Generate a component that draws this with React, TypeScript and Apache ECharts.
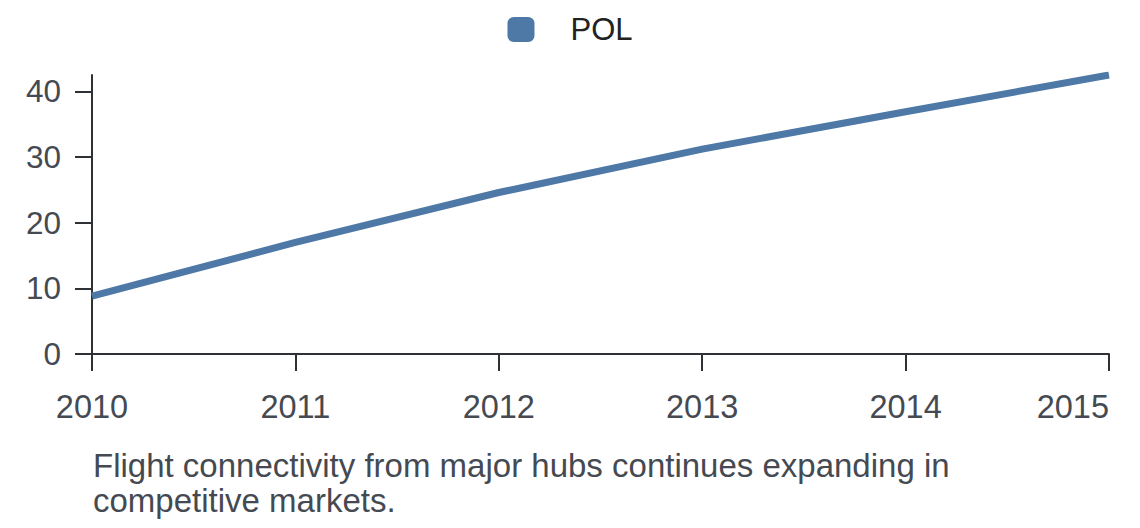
import React, { useEffect, useRef } from "react";
import * as echarts from "echarts";

const years = ["2010", "2011", "2012", "2013", "2014", "2015"];
const polValues = [8.8, 17.0, 24.6, 31.2, 36.9, 42.5];
const yTicks = [0, 10, 20, 30, 40];
const seriesName = "POL";
const caption = "Flight connectivity from major hubs continues expanding in\ncompetitive markets.";

const FONT = "'Liberation Sans', Arial, Helvetica, sans-serif";
const LABEL_COLOR = "#454a52";
const AXIS_COLOR = "#2e3135";
const LINE_COLOR = "#4e79a7";

export default function App() {
  const ref = useRef<HTMLDivElement>(null);
  useEffect(() => {
    document.body.style.margin = "0";
    if (!ref.current) return;
    const chart = echarts.init(ref.current, undefined, { renderer: "svg" });
    chart.setOption({
      animation: false,
      textStyle: { fontFamily: FONT },
      legend: {
        top: 9,
        left: "center",
        itemWidth: 27,
        itemHeight: 25,
        icon: "roundRect",
        data: [seriesName],
        textStyle: {
          fontSize: 31,
          color: "#222222",
          fontFamily: FONT,
          padding: [0, 0, 0, 31],
        },
      },
      grid: { left: 92, right: 31, top: 75, bottom: 174, containLabel: false, outerBoundsMode: "none" },
      xAxis: {
        type: "category",
        data: years,
        boundaryGap: false,
        axisLine: { show: true, lineStyle: { color: AXIS_COLOR, width: 2 } },
        axisTick: { show: true, length: 17, lineStyle: { color: AXIS_COLOR, width: 2 } },
        axisLabel: {
          fontSize: 32.5,
          color: LABEL_COLOR,
          margin: 36,
          fontFamily: FONT,
          alignMaxLabel: "right",
        },
        splitLine: { show: false },
      },
      yAxis: {
        type: "value",
        min: 0,
        max: "dataMax",
        interval: 10,
        axisLine: { show: true, lineStyle: { color: AXIS_COLOR, width: 2 } },
        axisTick: { show: true, length: 17, customValues: yTicks, lineStyle: { color: AXIS_COLOR, width: 2 } },
        axisLabel: { fontSize: 31.5, color: LABEL_COLOR, margin: 31, customValues: yTicks, fontFamily: FONT },
        splitLine: { show: false },
      },
      series: [
        {
          name: seriesName,
          type: "line",
          data: polValues,
          showSymbol: false,
          symbol: "none",
          lineStyle: { color: LINE_COLOR, width: 7 },
          itemStyle: { color: LINE_COLOR },
        },
      ],
      graphic: [
        {
          type: "text",
          left: 93,
          top: 448,
          style: {
            text: caption,
            fontSize: 33,
            lineHeight: 35,
            fill: LABEL_COLOR,
            fontFamily: FONT,
          },
        },
      ],
    });
    return () => chart.dispose();
  }, []);
  return <div ref={ref} style={{ width: 1140, height: 528 }} />;
}
